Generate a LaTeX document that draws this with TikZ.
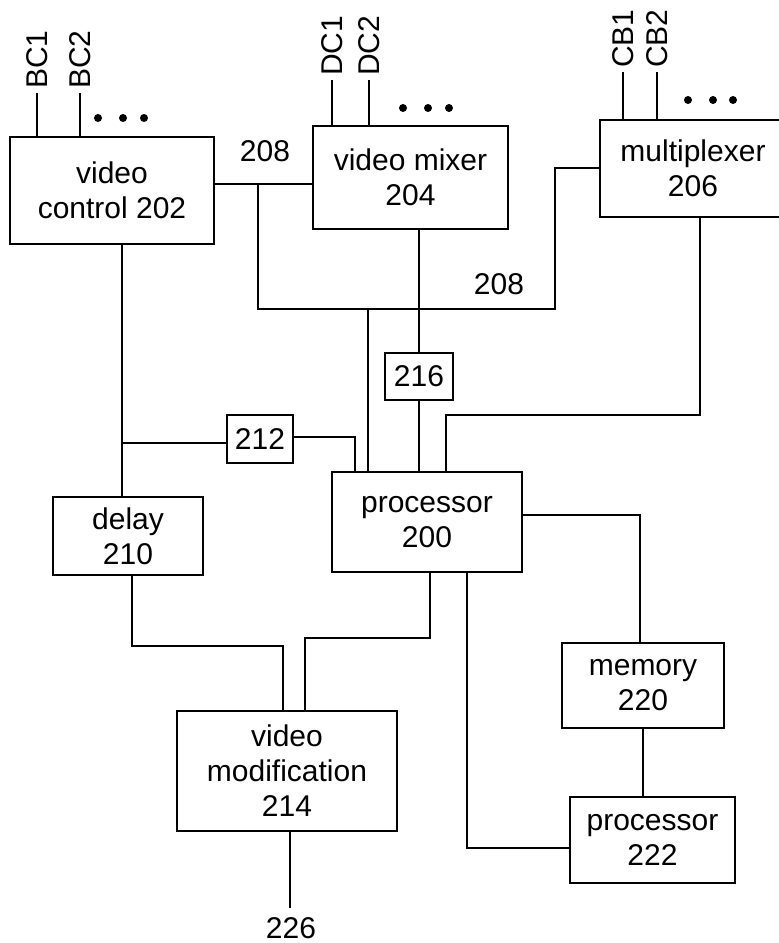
\documentclass[tikz,border=0pt]{standalone}
\usepackage{fontspec}
\setmainfont{Liberation Sans}
\usetikzlibrary{calc}
\newcommand{\diagfont}{\fontsize{15}{17.5}\selectfont}

\begin{document}
\begin{tikzpicture}[x=0.5pt, y=-0.5pt, line width=1.3pt,
    blockbox/.style={draw, align=center, inner sep=0pt, font=\diagfont},
    siglabel/.style={rotate=90, anchor=west, inner sep=1.5pt, font=\diagfont},
    numlabel/.style={inner sep=0pt, font=\diagfont}]
    \useasboundingbox (0,0) rectangle (779,943);

    % blocks
    \node[blockbox, minimum width=102pt, minimum height=53.5pt] (ctrl) at (112,190.5) {video\\control 202};
    \node[blockbox, minimum width=97.5pt, minimum height=51.5pt] (mixer) at (410.5,177.5) {video mixer\\204};
    \begin{scope}
      \clip (0,0) rectangle (779,943);
      \node[blockbox, minimum width=93pt, minimum height=48.5pt] (mux) at (693,168.5) {multiplexer\\206};
    \end{scope}
    \node[blockbox, minimum width=33pt, minimum height=24pt] (box212) at (260,439) {212};
    \node[blockbox, minimum width=34pt, minimum height=23.5pt] (box216) at (419,376.5) {216};
    \node[blockbox, minimum width=75pt, minimum height=39pt] (delay) at (128,536) {delay\\210};
    \node[blockbox, minimum width=95pt, minimum height=50pt] (proc) at (427,522) {processor\\200};
    \node[blockbox, minimum width=110pt, minimum height=60pt] (vmod) at (287,771) {video\\modification\\214};
    \node[blockbox, minimum width=81pt, minimum height=42.5pt] (mem) at (643,685.5) {memory\\220};
    \node[blockbox, minimum width=82.5pt, minimum height=43pt] (proc2) at (652.5,840) {processor\\222};

    % input lines
    \coordinate (bc1) at (37,93);
    \coordinate (bc2) at (80,93);
    \coordinate (dc1) at (332,80);
    \coordinate (dc2) at (369,80);
    \coordinate (cb1) at (623,72);
    \coordinate (cb2) at (657,72);
    \draw (bc1) -- (bc1 |- ctrl.north);
    \draw (bc2) -- (bc2 |- ctrl.north);
    \draw (dc1) -- (dc1 |- mixer.north);
    \draw (dc2) -- (dc2 |- mixer.north);
    \draw (cb1) -- (cb1 |- mux.north);
    \draw (cb2) -- (cb2 |- mux.north);
    \node[siglabel] (lbc1) at (bc1) {BC1};
    \node[siglabel] (lbc2) at (bc2) {BC2};
    \node[siglabel] (ldc1) at (dc1) {DC1};
    \node[siglabel] (ldc2) at (dc2) {DC2};
    \node[siglabel] (lcb1) at (cb1) {CB1};
    \node[siglabel] (lcb2) at (cb2) {CB2};
    \foreach \x in {98,123,144} \fill (\x,118) circle (2pt);
    \foreach \x in {403,428,449} \fill (\x,108) circle (2pt);
    \foreach \x in {688,713,733} \fill (\x,100) circle (2pt);

    % bus 208
    \coordinate (j208) at (258,184);
    \coordinate (busL) at (258,309);
    \coordinate (busP) at (368,309);
    \coordinate (busR) at (555,309);
    \coordinate (muxin) at (555,168);
    \draw (ctrl.east |- j208) -- (mixer.west |- j208);
    \draw (j208) -- (busL) -- (busR) -- (muxin) -- (mux.west |- muxin);
    \draw (busP) -- (busP |- proc.north);
    \node[numlabel] (lbl208a) at (265,151) {208};
    \node[numlabel] (lbl208b) at (499,284) {208};

    % mixer and multiplexer to processor
    \draw (box216.north |- mixer.south) -- (box216.north);
    \draw (box216.south) -- (box216.south |- proc.north);
    \coordinate (muxA) at (700,415);
    \coordinate (muxB) at (446,415);
    \draw (mux.south -| muxA) -- (muxA) -- (muxB) -- (muxB |- proc.north);

    % video control to delay and 212
    \coordinate (j212) at (122,443);
    \coordinate (c212) at (355,437);
    \draw (ctrl.south -| j212) -- (delay.north -| j212);
    \draw (j212) -- (box212.west |- j212);
    \draw (box212.east |- c212) -- (c212) -- (c212 |- proc.north);

    % to video modification
    \coordinate (dA) at (132,646);
    \coordinate (dB) at (283,646);
    \coordinate (pA) at (430,638);
    \coordinate (pB) at (305,638);
    \draw (delay.south -| dA) -- (dA) -- (dB) -- (dB |- vmod.north);
    \draw (proc.south -| pA) -- (pA) -- (pB) -- (pB |- vmod.north);
    \coordinate (out226) at (290,908);
    \draw (vmod.south -| out226) -- (out226);
    \node[numlabel, anchor=north] (lbl226) at (291,916) {226};

    % memory and processor 222
    \coordinate (mA) at (640,515);
    \coordinate (qA) at (467,848);
    \draw (proc.east |- mA) -- (mA) -- (mA |- mem.north);
    \draw (mem.south) -- (mem.south |- proc2.north);
    \draw (proc.south -| qA) -- (qA) -- (proc2.west |- qA);
  \end{tikzpicture}
\end{document}
